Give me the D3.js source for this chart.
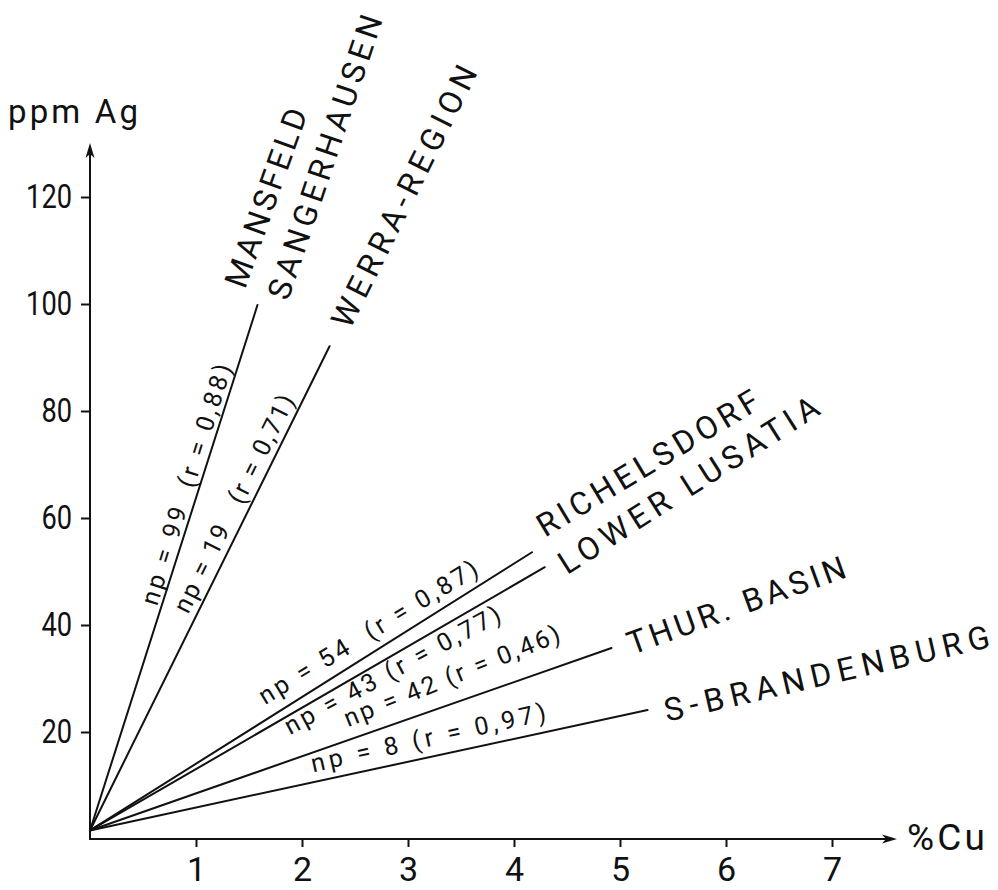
<!DOCTYPE html>
<html>
<head>
<meta charset="utf-8">
<script src="https://cdn.jsdelivr.net/npm/d3@7"></script>
<style>
  html, body { margin: 0; padding: 0; background: #fff; }
  svg { display: block; }
  text { font-family: Roboto, "DejaVu Sans", sans-serif; font-weight: 400; fill: #111; white-space: pre; }
</style>
</head>
<body>
<div id="chart"></div>
<script>
// ---------------- data ----------------
const regions   = ["MANSFELD SANGERHAUSEN", "WERRA-REGION", "RICHELSDORF", "LOWER LUSATIA", "THUR. BASIN", "S-BRANDENBURG"];
const cuStart   = [0, 0, 0, 0, 0, 0];
const agStart   = [1.6, 1.6, 1.6, 1.6, 1.6, 1.6];
const cuEnd     = [1.58, 2.26, 4.17, 4.29, 4.92, 5.26];
const agEnd     = [99.8, 92.1, 53.6, 50.8, 35.7, 24.1];
const npValues  = [99, 19, 54, 43, 42, 8];
const rValues   = ["0,88", "0,71", "0,87", "0,77", "0,46", "0,97"];
const xTicks    = [1, 2, 3, 4, 5, 6, 7];
const yTicks    = [20, 40, 60, 80, 100, 120];
const xTitle    = "%Cu";
const yTitle    = "ppm Ag";

// label texts (region names, one per text line) and the (cu, ag) point where each starts
const nameTexts = ["MANSFELD", "SANGERHAUSEN", "WERRA-REGION", "RICHELSDORF", "LOWER LUSATIA", "THUR. BASIN", "S-BRANDENBURG"];
const nameCu    = [1.462, 1.868, 2.453, 4.292, 4.50, 5.113, 5.443];
const nameAg    = [102.6, 100.4, 95.1, 56.3, 49.3, 34.4, 21.9];
// statistics labels start points (cu, ag)
const statCu    = [0.632, 0.925, 1.651, 1.887, 2.434, 2.104];
const statAg    = [43.4, 41.9, 25.0, 19.4, 20.9, 12.5];

// ---------------- layout / style ----------------
const W = 998, H = 890;
const nameStyle = { size: 32, angle: [-70.4, -71.4, -63.6, -31, -32.4, -19.9, -13], len: [188, 298, 288, 253, 302, 230, 333] };
const statStyle = { size: 25, angle: [-72.6, -63.5, -31.4, -28.4, -22, -12.5], len: [251, 240, 252, 242, 231, 240],
                    gap: ["  ", "   ", "  ", " ", " ", " "] };

const svg = d3.select("#chart").append("svg").attr("width", W).attr("height", H);

const x = d3.scaleLinear().domain([0, 7]).range([90, 832]);
const y = d3.scaleLinear().domain([0, 120]).range([839, 197]);

// ---------------- axes ----------------
const xAxis = svg.append("g").attr("transform", `translate(0,${y(0)})`)
  .call(d3.axisBottom(x).tickValues(xTicks).tickSize(8).tickSizeOuter(0).tickFormat(d3.format("d")));
xAxis.select(".domain").remove();
xAxis.selectAll(".tick line").attr("stroke", "#111").attr("stroke-width", 2);
xAxis.selectAll(".tick text").attr("y", 42).attr("dy", null).attr("font-size", 34)
  .attr("font-family", "Roboto").attr("fill", "#111");

const yAxis = svg.append("g").attr("transform", `translate(${x(0)},0)`)
  .call(d3.axisLeft(y).tickValues(yTicks).tickSize(9).tickSizeOuter(0).tickFormat(d3.format("d")));
yAxis.select(".domain").remove();
yAxis.selectAll(".tick line").attr("stroke", "#111").attr("stroke-width", 2);
yAxis.selectAll(".tick text").attr("x", -18).attr("font-size", 34).attr("font-family", "Roboto").attr("fill", "#111")
  .attr("textLength", d => String(d).length * 15.3).attr("lengthAdjust", "spacingAndGlyphs");

// axis lines with arrows
const x0 = x(0), y0 = y(0);
const yTop = y(0) - 696, xRight = x(0) + 807;
svg.append("line").attr("x1", x0).attr("y1", y0 + 1).attr("x2", x0).attr("y2", yTop + 6)
  .attr("stroke", "#111").attr("stroke-width", 2);
svg.append("path").attr("d", `M${x0},${yTop} L${x0 - 4.5},${yTop + 15} L${x0},${yTop + 11} L${x0 + 4.5},${yTop + 15} Z`)
  .attr("fill", "#111");
svg.append("line").attr("x1", x0 - 1).attr("y1", y0).attr("x2", xRight - 6).attr("y2", y0)
  .attr("stroke", "#111").attr("stroke-width", 2);
svg.append("path").attr("d", `M${xRight},${y0} L${xRight - 15},${y0 - 4.5} L${xRight - 11},${y0} L${xRight - 15},${y0 + 4.5} Z`)
  .attr("fill", "#111");

svg.append("text").attr("x", 8).attr("y", 123).attr("font-size", 33)
  .attr("textLength", 130).attr("lengthAdjust", "spacing").text(yTitle);
svg.append("text").attr("x", xRight + 10).attr("y", 850).attr("font-size", 37)
  .attr("textLength", 78).attr("lengthAdjust", "spacing").text(xTitle);

// ---------------- regression lines ----------------
const lines = regions.map((r, i) => ({ name: r, x1: cuStart[i], y1: agStart[i], x2: cuEnd[i], y2: agEnd[i] }));
svg.append("g").selectAll("line").data(lines).join("line")
  .attr("x1", d => x(d.x1)).attr("y1", d => y(d.y1))
  .attr("x2", d => x(d.x2)).attr("y2", d => y(d.y2))
  .attr("stroke", "#111").attr("stroke-width", 2).attr("stroke-linecap", "round");

// ---------------- region names ----------------
svg.append("g").selectAll("text").data(nameTexts).join("text")
  .attr("transform", (d, i) => `translate(${x(nameCu[i])},${y(nameAg[i])}) rotate(${nameStyle.angle[i]})`)
  .attr("font-size", nameStyle.size)
  .attr("textLength", (d, i) => nameStyle.len[i]).attr("lengthAdjust", "spacing")
  .text(d => d);

// ---------------- statistics ----------------
svg.append("g").selectAll("text").data(npValues).join("text")
  .attr("transform", (d, i) => `translate(${x(statCu[i])},${y(statAg[i])}) rotate(${statStyle.angle[i]})`)
  .attr("font-size", statStyle.size)
  .attr("textLength", (d, i) => statStyle.len[i]).attr("lengthAdjust", "spacing")
  .text((d, i) => `np = ${d}${statStyle.gap[i]}(r = ${rValues[i]})`);
</script>
</body>
</html>
